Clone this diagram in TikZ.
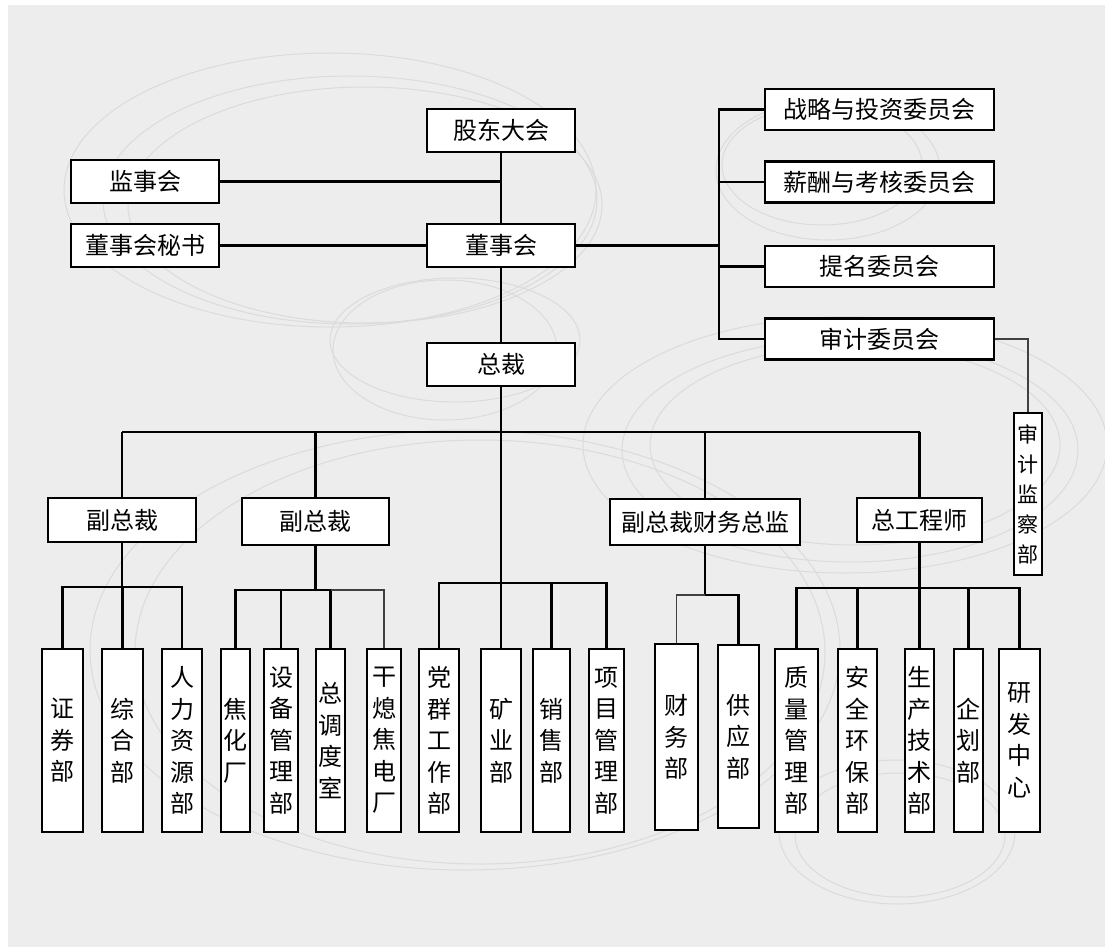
\documentclass[tikz,border=0pt]{standalone}
\usepackage{fontspec}
\setmainfont{Noto Sans CJK SC}
\begin{document}
\begin{tikzpicture}[x=1pt,y=-1pt,
  box/.style={draw=black, line width=2.6pt, fill=white, inner sep=0pt, font=\fontsize{24}{30}\selectfont},
  vbox/.style={box, align=center, minimum height=183pt, font=\fontsize{24}{31.5}\selectfont},
  conn/.style={line width=2.6pt},
  thinconn/.style={line width=1.2pt, draw=black!75},
  deco/.style={draw=black!14, line width=1pt}]
\useasboundingbox (0,0) rectangle (1105,947);
\fill[white] (0,0) rectangle (1105,947);
\fill[black!7] (8,5) rectangle (1105,947);
% decorative ellipses
\draw[deco] (330,190) ellipse [x radius=266, y radius=137];
\draw[deco] (350,200) ellipse [x radius=247, y radius=124];
\draw[deco] (365,205) ellipse [x radius=237, y radius=118];
\draw[deco] (828,170) ellipse [x radius=112, y radius=70];
\draw[deco] (822,165) ellipse [x radius=100, y radius=60];
\draw[deco] (455,340) ellipse [x radius=125, y radius=62];
\draw[deco] (445,350) ellipse [x radius=112, y radius=70];
\draw[deco] (845,445) ellipse [x radius=262, y radius=128];
\draw[deco] (850,450) ellipse [x radius=228, y radius=112];
\draw[deco] (855,445) ellipse [x radius=205, y radius=100];
\draw[deco] (897,832) ellipse [x radius=118, y radius=72];
\draw[deco] (900,835) ellipse [x radius=105, y radius=62];
\draw[deco] (465,650) ellipse [x radius=375, y radius=220];
\draw[deco] (480,652) ellipse [x radius=345, y radius=212];
% top level
\node[box, minimum width=148pt, minimum height=43pt] (gd) at (501,130.5) {股东大会};
\node[box, minimum width=148pt, minimum height=43pt] (jsh) at (145,181.5) {监事会};
\node[box, minimum width=148pt, minimum height=43pt] (msh) at (145,245.5) {董事会秘书};
\node[box, minimum width=148pt, minimum height=43pt] (dsh) at (501,245.5) {董事会};
\node[box, minimum width=148pt, minimum height=43pt] (zc) at (501,364.5) {总裁};
\node[box, minimum width=229pt, minimum height=41pt] (c1) at (879.5,109.5) {战略与投资委员会};
\node[box, minimum width=229pt, minimum height=41pt] (c2) at (879.5,182) {薪酬与考核委员会};
\node[box, minimum width=229pt, minimum height=41pt] (c3) at (879.5,266.5) {提名委员会};
\node[box, minimum width=229pt, minimum height=41pt] (c4) at (879.5,339) {审计委员会};
\node[box, align=center, minimum width=28pt, minimum height=162pt, font=\fontsize{21}{30}\selectfont] (sj) at (1028,494) {审\\计\\监\\察\\部};
% second level
\node[box, minimum width=148pt, minimum height=44pt] (vp1) at (122,520) {副总裁};
\node[box, minimum width=147pt, minimum height=47pt] (vp2) at (315.5,521.5) {副总裁};
\node[box, minimum width=190pt, minimum height=46pt] (vpf) at (705,522) {副总裁财务总监};
\node[box, minimum width=125pt, minimum height=44pt] (ce) at (919.5,520) {总工程师};
% departments
\node[vbox, minimum width=41pt] (d1) at (62.5,740.5) {证\\券\\部};
\node[vbox, minimum width=41pt] (d2) at (122.5,740.5) {综\\合\\部};
\node[vbox, minimum width=40pt] (d3) at (182,740.5) {人\\力\\资\\源\\部};
\node[vbox, minimum width=29pt] (d4) at (235.5,740.5) {焦\\化\\厂};
\node[vbox, minimum width=34pt] (d5) at (281,740.5) {设\\备\\管\\理\\部};
\node[vbox, minimum width=29pt] (d6) at (330.5,740.5) {总\\调\\度\\室};
\node[vbox, minimum width=34pt] (d7) at (384,740.5) {干\\熄\\焦\\电\\厂};
\node[vbox, minimum width=40pt] (d8) at (439,740.5) {党\\群\\工\\作\\部};
\node[vbox, minimum width=40pt] (d9) at (501,740.5) {矿\\业\\部};
\node[vbox, minimum width=37pt] (d10) at (551.5,740.5) {销\\售\\部};
\node[vbox, minimum width=35pt] (d11) at (606.5,740.5) {项\\目\\管\\理\\部};
\node[vbox, minimum width=43pt, minimum height=186pt] (d12) at (676.5,737) {财\\务\\部};
\node[vbox, minimum width=41pt] (d13) at (738.5,736.5) {供\\应\\部};
\node[vbox, minimum width=43pt] (d14) at (796.5,740.5) {质\\量\\管\\理\\部};
\node[vbox, minimum width=39pt] (d15) at (857.5,740.5) {安\\全\\环\\保\\部};
\node[vbox, minimum width=29pt] (d16) at (919.5,740.5) {生\\产\\技\\术\\部};
\node[vbox, minimum width=29pt] (d17) at (968.5,740.5) {企\\划\\部};
\node[vbox, minimum width=41pt] (d18) at (1019.5,740.5) {研\\发\\中\\心};
% coordinates
\coordinate (cb) at (719,0);
\coordinate (bus) at (0,432);
\coordinate (b1) at (0,587);
\coordinate (b2) at (0,590);
\coordinate (b3) at (0,583);
\coordinate (b4) at (0,595);
\coordinate (b5) at (0,588);
% board connections
\draw[conn] (gd) -- (dsh);
\draw[conn] (dsh) -- (zc);
\draw[conn] (jsh.east) -- (jsh.east -| gd.south);
\draw[conn] (msh) -- (dsh);
\draw[conn] (dsh.east) -- (dsh.east -| cb);
\draw[conn] (c1.west) -- (c1.west -| cb) -- (c4.west -| cb) -- (c4.west);
\draw[conn] (c2.west) -- (c2.west -| cb);
\draw[conn] (c3.west) -- (c3.west -| cb);
\draw[thinconn] (c4.east) -| (sj.north);
% president bus
\draw[conn] (zc.south) -- (zc.south |- b3);
\draw[conn] (vp1.north |- bus) -- (ce.north |- bus);
\draw[conn] (vp1.north) -- (vp1.north |- bus);
\draw[conn] (vp2.north) -- (vp2.north |- bus);
\draw[conn] (vpf.north) -- (vpf.north |- bus);
\draw[conn] (ce.north) -- (ce.north |- bus);
% VP1
\draw[conn] (vp1.south) -- (vp1.south |- b1);
\draw[conn] (d1.north) -- (d1.north |- b1) -- (d3.north |- b1) -- (d3.north);
\draw[conn] (d2.north) -- (d2.north |- b1);
% VP2
\draw[conn] (vp2.south) -- (vp2.south |- b2);
\draw[conn] (d4.north) -- (d4.north |- b2) -- (d6.north |- b2) -- (d6.north);
\draw[conn] (d5.north) -- (d5.north |- b2);
\draw[thinconn] (d6.north |- b2) -- (d7.north |- b2) -- (d7.north);
% president direct
\draw[conn] (d8.north) -- (d8.north |- b3) -- (d11.north |- b3) -- (d11.north);
\draw[conn] (d9.north) -- (d9.north |- b3);
\draw[conn] (d10.north) -- (d10.north |- b3);
% finance VP
\draw[conn] (vpf.south) -- (vpf.south |- b4) -- (d13.north |- b4) -- (d13.north);
\draw[thinconn] (vpf.south |- b4) -- (d12.north |- b4) -- (d12.north);
% chief engineer
\draw[conn] (ce.south) -- (ce.south |- b5);
\draw[conn] (d14.north) -- (d14.north |- b5) -- (d18.north |- b5) -- (d18.north);
\draw[conn] (d15.north) -- (d15.north |- b5);
\draw[conn] (d16.north) -- (d16.north |- b5);
\draw[conn] (d17.north) -- (d17.north |- b5);
\end{tikzpicture}
\end{document}
